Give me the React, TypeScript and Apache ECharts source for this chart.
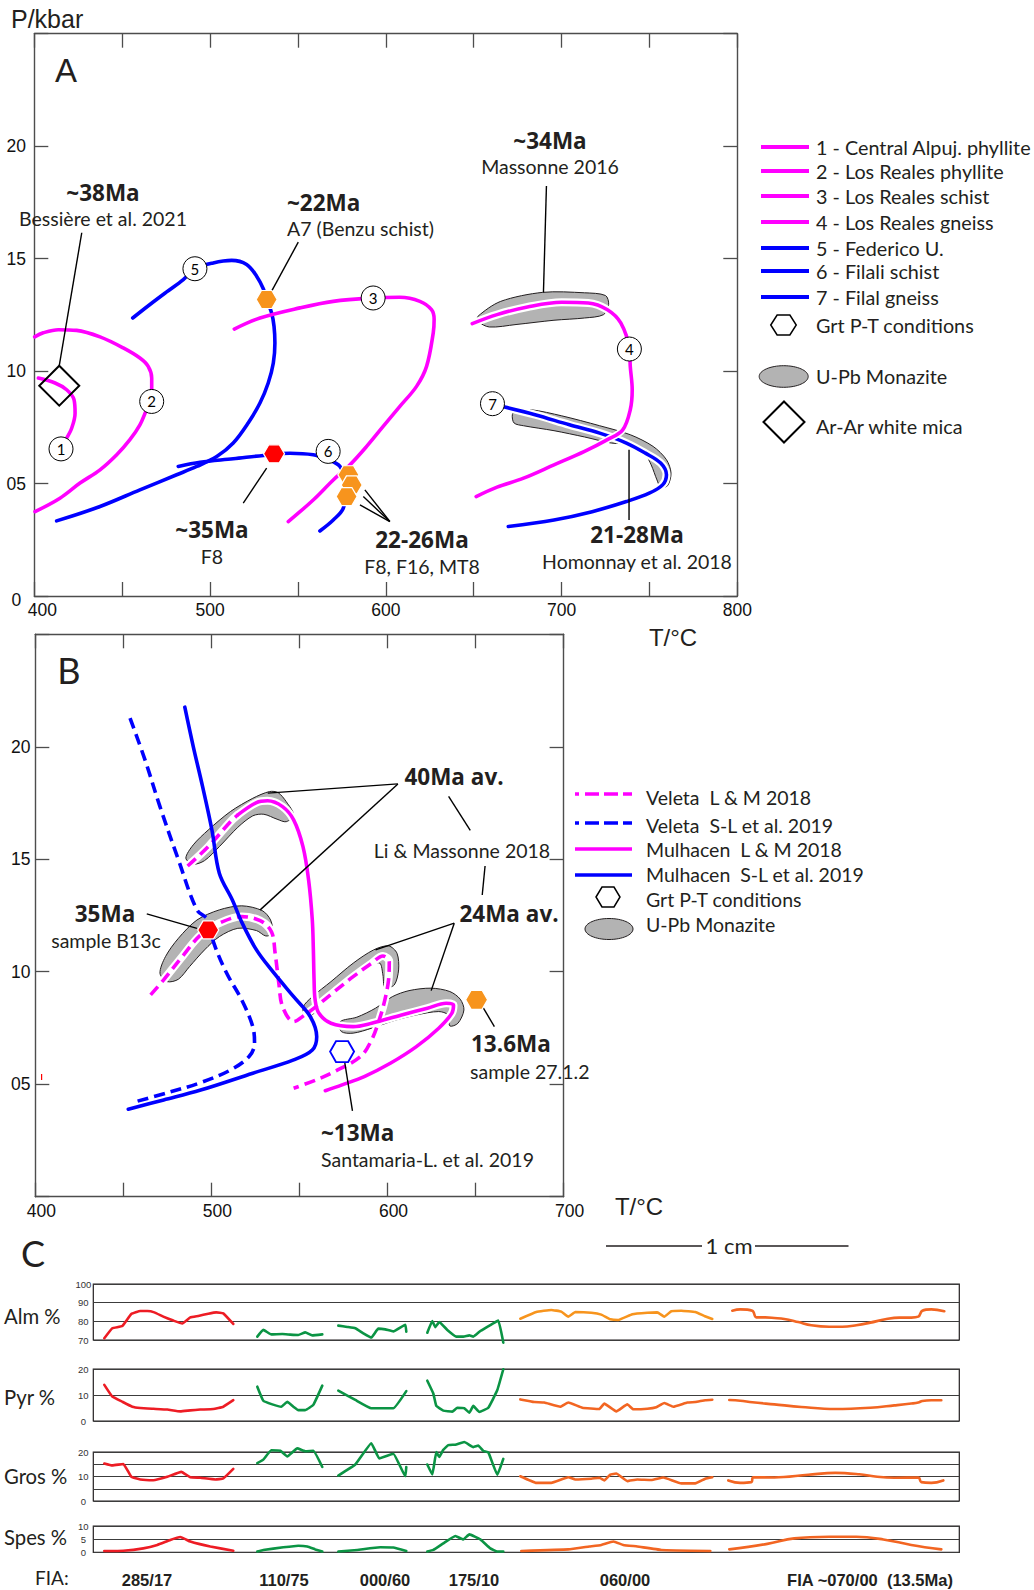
import React, { useEffect, useRef } from 'react';
import * as echarts from 'echarts';

type Pt = [number, number];

// ================= Panel A : P–T paths (T °C, P kbar) =================
const a1: Pt[] = [[402.3, 9.69], [411.8, 9.47], [418.4, 9.17], [422.6, 8.73], [423.2, 8.13], [421.3, 7.47], [418.4, 7.02]];
const a2: Pt[] = [[400.2, 11.52], [405.1, 11.7], [413.7, 11.84], [424.1, 11.81], [437.4, 11.52], [450.6, 11.03], [460.1, 10.58], [464.8, 10.21], [466.8, 9.69], [466.8, 9.17], [466.6, 8.65], [463.9, 8.28], [460.1, 7.61], [454.4, 6.95], [446.9, 6.28], [437.4, 5.61], [426, 5.02], [414.6, 4.35], [400.4, 3.75]];
const a3: Pt[] = [[513.8, 11.87], [528.4, 12.36], [551.1, 12.81], [570.1, 13.1], [592.8, 13.25], [608, 13.28], [619.4, 13.1], [626, 12.73], [627.5, 12.3], [627, 11.7], [623.2, 10.21], [617.5, 9.32], [608, 8.43], [598.5, 7.54], [589.1, 6.65], [579.6, 5.83], [570.1, 5.16], [558.7, 4.27], [544.5, 3.31]];
const a4: Pt[] = [[649.2, 12.11], [663.3, 12.51], [680.6, 12.85], [700.1, 13.06], [715.2, 13.03], [726.1, 12.73], [733.7, 12.14], [738.6, 10.98], [739.1, 10.21], [740.2, 9.17], [739.1, 8.28], [734.8, 7.39], [726.1, 6.95], [713.1, 6.43], [695.7, 5.83], [678.4, 5.24], [663.3, 4.84], [651.4, 4.42]];
const a5: Pt[] = [[456, 12.36], [465.8, 12.96], [475.3, 13.52], [484.8, 14.07], [491.4, 14.55], [501.8, 14.81], [512.3, 14.92], [520.8, 14.74], [526.5, 14.22], [530.3, 13.66], [532.2, 13.18], [535, 12.59], [536.4, 11.99], [536.9, 11.25], [536, 10.36], [533.1, 9.47], [528.4, 8.58], [521.7, 7.69], [513.2, 6.8], [503.8, 6.2], [492.4, 5.76], [481, 5.39], [460.1, 4.72], [437.4, 3.98], [412.7, 3.34]];
const a6: Pt[] = [[481.9, 5.76], [494.3, 5.95], [513.2, 6.1], [530.3, 6.25], [545.5, 6.35], [558.7, 6.28], [566, 6.09], [573.9, 5.76], [577.7, 4.87], [575.8, 3.9], [570.1, 3.38], [562.5, 2.89]];
const a7: Pt[] = [[667.6, 8.4], [684.9, 8.06], [704.5, 7.61], [721.7, 7.24], [736.9, 6.8], [747.7, 6.35], [756.4, 5.91], [759.7, 5.39], [757.5, 4.94], [749.9, 4.57], [736.9, 4.2], [717.4, 3.75], [695.7, 3.38], [669.7, 3.09]];
// U-Pb monazite fields (outline points)
const blobA34: Pt[] = [[652.5, 12.44], [665.4, 13.1], [689.3, 13.5], [713.1, 13.48], [725, 13.36], [726.8, 12.96], [723.9, 12.51], [713.1, 12.36], [695.7, 12.26], [674.1, 12.07], [658.9, 11.96], [652.5, 12.21]];
const blobA21: Pt[] = [[672, 8.06], [674.1, 8.24], [682.8, 8.28], [700.1, 8.01], [721.7, 7.57], [739.1, 7.17], [752.1, 6.65], [759.7, 6.06], [762.3, 5.46], [760.3, 4.9], [756.4, 4.84], [754.3, 5.16], [751, 5.83], [747.7, 6.28], [740.2, 6.72], [728.3, 6.8], [713.1, 7.07], [695.7, 7.35], [678.4, 7.57], [673, 7.69]];
const hexRedA: Pt[] = [[536.4, 6.32]];
const hexOrangeA: Pt[] = [[532.2, 13.18], [578.7, 5.39], [580.6, 4.94], [577.7, 4.42]];
const diamondA: Pt[] = [[414.2, 9.35]];
const circleA: [number, number, string][] = [[415.2, 6.54, '1'], [466.8, 8.65, '2'], [592.8, 13.25, '3'], [738.6, 10.98, '4'], [491.4, 14.55, '5'], [567.2, 6.43, '6'], [660.7, 8.55, '7']];
const leadersA: Pt[][] = [
  [[427, 16.15], [414.2, 10.24]],
  [[550.2, 15.73], [534.5, 13.48]],
  [[532.2, 5.69], [518.9, 4.13]],
  [[602.3, 3.31], [588.1, 4.72]],
  [[602.3, 3.31], [587.2, 4.42]],
  [[602.3, 3.31], [585.3, 4.05]],
  [[691.4, 18.23], [689.7, 13.5]],
  [[738.4, 6.5], [738.4, 3.38]],
];
const legendA = ['1 - Central Alpuj. phyllite', '2 - Los Reales phyllite', '3 - Los Reales schist', '4 - Los Reales gneiss', '5 - Federico U.', '6 - Filali schist', '7 - Filal gneiss'];

// ================= Panel B =================
const velSL: Pt[] = [[453.8, 21.27], [462.3, 19.42], [470.8, 17.34], [481.3, 14.97], [491.8, 12.75], [498.2, 12.3], [501.4, 11.27], [508.7, 9.93], [517.2, 8.75], [523.5, 7.56], [524.5, 6.82], [521.4, 6.23], [510.8, 5.63], [493.9, 5.07], [474.9, 4.62], [454.9, 4.18]];
const mulSL: Pt[] = [[484.9, 21.76], [489.7, 20.01], [495, 18.23], [500.3, 16.3], [504.5, 14.38], [511.9, 13.19], [517.5, 12.16], [525.6, 10.97], [534.1, 10.08], [546.7, 8.89], [556.2, 8.0], [559.8, 7.11], [557.3, 6.52], [546.7, 6.08], [523.5, 5.49], [493.9, 4.74], [472.9, 4.3], [452.8, 3.89]];
const velLM: Pt[] = [[465.5, 8.97], [472.9, 9.64], [483.4, 10.67], [493.9, 11.64], [504.5, 12.16], [517.2, 12.45], [527.7, 12.27], [534.1, 11.78], [536.2, 10.82], [538.3, 9.49], [540.4, 8.45], [546.7, 7.78], [553, 8.08], [559.4, 8.45], [569.9, 9.12], [580.5, 9.78], [591, 10.38], [597.4, 10.7], [601, 10.45], [600.6, 9.64], [598.5, 8.75], [595.3, 7.86], [591, 6.97], [584.7, 6.23], [569.9, 5.56], [559.4, 5.19], [546.7, 4.82]];
const mulLMpro: Pt[] = [[486.5, 14.7], [498.2, 15.56], [510.8, 16.67], [515, 16.97]];
const mulLM: Pt[] = [[515, 16.97], [525.6, 17.52], [531.9, 17.6], [540.4, 17.34], [546.7, 16.75], [552, 15.56], [555.2, 14.08], [557.3, 12.3], [557.9, 10.97], [558.3, 9.64], [558.9, 8.75], [561.1, 8.15], [567.9, 7.71], [580.5, 7.56], [591, 7.71], [608, 8.08], [622.7, 8.38], [633.3, 8.6], [637.5, 8.52], [636.5, 8.15], [629.1, 7.49], [616.4, 6.67], [601.6, 5.93], [586.8, 5.34], [574.2, 4.97], [564.7, 4.71]];
const blobB40: Pt[] = [[485.5, 15.05], [489.7, 15.64], [498.2, 16.3], [510.8, 17.12], [523.5, 17.71], [533, 18.01], [537.9, 17.96], [542.5, 17.56], [546.7, 16.97], [542.5, 16.67], [537.3, 16.78], [529.8, 17.0], [523.5, 16.93], [515, 16.42], [504.5, 15.56], [496.1, 14.94], [489.7, 14.78]];
const blobB35: Pt[] = [[470.8, 9.93], [473.9, 10.67], [481.3, 11.49], [491.8, 12.3], [504.5, 12.75], [517.2, 12.93], [528.8, 12.72], [533.6, 12.3], [534.7, 11.71], [530.9, 11.59], [525.6, 11.83], [515, 11.93], [504.5, 11.56], [496.1, 10.97], [487.6, 10.23], [481.3, 9.67], [474.9, 9.56]];
const blobB24a: Pt[] = [[552, 8.42], [557.3, 8.89], [567.9, 9.56], [580.5, 10.38], [592.1, 10.97], [600.6, 11.15], [605.4, 10.82], [606.3, 10.08], [603.8, 9.41], [598.5, 9.31], [597.4, 9.86], [595.7, 10.38], [591, 10.3], [582.6, 9.86], [572.1, 9.27], [563.6, 8.67], [558.3, 8.15], [553.5, 8.03]];
const blobB24b: Pt[] = [[573.1, 7.78], [582.6, 7.98], [593.2, 8.38], [602.7, 8.89], [612.2, 9.16], [624.8, 9.27], [635.4, 9.12], [641.3, 8.78], [643.4, 8.3], [640, 7.71], [635.4, 7.59], [634.4, 8.08], [629.1, 8.23], [616.4, 8.08], [603.7, 7.83], [591, 7.49], [580.5, 7.27], [573.8, 7.34]];
const hexRedB: Pt[] = [[498.2, 11.86]];
const hexOrangeB: Pt[] = [[650.6, 8.75]];
const hexBlueB: Pt[] = [[574.2, 6.45]];
const leadersB: Pt[][] = [
  [[605.9, 18.35], [532, 17.94]],
  [[605.9, 18.35], [527.7, 12.75]],
  [[634.7, 17.79], [647, 16.28]],
  [[655.4, 14.7], [653.8, 13.41]],
  [[637.9, 12.16], [593.2, 10.97]],
  [[637.9, 12.16], [624.8, 9.16]],
  [[463.3, 12.57], [491.8, 11.93]],
  [[652.3, 8.67], [660.7, 7.56]],
  [[575.2, 6.23], [580.1, 3.82]],
];
const legendB = ['Veleta  L & M 2018', 'Veleta  S-L et al. 2019', 'Mulhacen  L & M 2018', 'Mulhacen  S-L et al. 2019'];

// ================= Panel C : garnet profiles (distance, mol %) =================
const almRed: Pt[] = [[11, 70.9], [19, 76.3], [29, 77.5], [38, 83.9], [47, 85.5], [54, 85.5], [61, 84.8], [70, 82.5], [80, 80.4], [89, 78.8], [97, 82.1], [105, 82.9], [115, 84.1], [123, 84.8], [130, 84.3], [140, 78.6]];
const almG1: Pt[] = [[164, 71.8], [170, 75.4], [178, 73.0], [189, 73.2], [197, 72.9], [205, 72.7], [212, 74.1], [219, 72.5], [229, 73.0]];
const almG2: Pt[] = [[245, 77.7], [254, 77.0], [262, 76.3], [270, 73.6], [278, 71.3], [285, 76.1], [292, 75.7], [300, 74.6], [312, 78.2], [313, 74.5]];
const almG3: Pt[] = [[334, 73.9], [339, 80.2], [342, 76.9], [346, 79.6], [354, 75.4], [363, 71.8], [370, 71.8], [376, 72.5], [380, 71.8], [387, 74.8], [397, 78.0], [405, 80.4], [410, 68.6]];
const almO1: Pt[] = [[427, 81.4], [443, 85.0], [458, 86.1], [468, 85.2], [475, 82.5], [482, 85.0], [498, 84.6], [508, 83.6], [517, 81.1], [525, 80.7], [539, 83.8], [554, 84.6], [564, 84.8], [571, 82.5], [578, 85.4], [588, 85.7], [602, 85.0], [611, 82.9], [619, 81.3]];
const almO2: Pt[] = [[639, 85.7], [647, 86.4], [659, 85.7], [663, 82.1], [672, 82.1], [681, 81.8], [691, 81.3], [705, 79.6], [718, 77.9], [736, 77.1], [749, 77.1], [763, 77.9], [777, 79.3], [792, 81.1], [806, 82.0], [818, 82.0], [825, 82.5], [829, 85.7], [838, 86.4], [851, 85.4]];
const pyrRed: Pt[] = [[11, 13.9], [19, 9.4], [29, 7.4], [39, 5.5], [47, 5.0], [60, 4.7], [74, 4.4], [87, 3.7], [97, 4.1], [107, 4.4], [120, 4.6], [130, 5.5], [140, 8.0]];
const pyrG1: Pt[] = [[164, 13.2], [170, 7.8], [179, 6.4], [188, 5.5], [194, 7.4], [200, 5.5], [205, 4.2], [212, 4.2], [220, 6.2], [229, 13.6]];
const pyrG2: Pt[] = [[245, 11.7], [262, 8.1], [278, 4.9], [300, 4.9], [313, 11.5]];
const pyrG3: Pt[] = [[334, 15.5], [340, 10.6], [343, 5.8], [350, 4.0], [359, 3.6], [364, 5.1], [371, 4.9], [376, 3.2], [380, 5.8], [386, 3.5], [395, 5.1], [404, 11.9], [410, 19.9]];
const pyrO1: Pt[] = [[427, 8.3], [441, 7.3], [451, 7.1], [467, 5.5], [475, 7.1], [489, 5.1], [506, 4.6], [511, 6.7], [523, 3.7], [534, 6.4], [540, 4.5], [554, 4.7], [563, 5.3], [571, 6.9], [580, 5.5], [594, 7.1], [602, 7.3], [612, 8.0], [619, 8.2]];
const pyrO2: Pt[] = [[636, 8.1], [647, 7.8], [659, 7.2], [681, 6.4], [708, 5.4], [742, 4.6], [777, 5.1], [801, 6.0], [818, 6.7], [825, 7.1], [829, 7.7], [838, 8.0], [848, 8.0]];
const grosRed: Pt[] = [[11, 15.3], [19, 14.5], [30, 15.1], [38, 9.9], [47, 8.8], [60, 8.5], [74, 9.9], [88, 11.9], [97, 9.7], [107, 9.5], [122, 8.8], [130, 9.2], [140, 13.1]];
const grosG1: Pt[] = [[164, 15.5], [170, 16.9], [178, 20.7], [187, 20.5], [194, 18.2], [204, 21.5], [212, 20.3], [220, 20.5], [229, 13.9]];
const grosG2: Pt[] = [[245, 10.4], [262, 14.9], [278, 23.6], [286, 17.4], [300, 19.3], [312, 10.1], [313, 13.9]];
const grosG3: Pt[] = [[334, 14.9], [339, 10.8], [343, 20.0], [346, 18.0], [350, 20.9], [355, 22.8], [362, 23.0], [371, 24.1], [380, 22.0], [385, 22.6], [390, 20.4], [395, 19.9], [404, 10.7], [410, 17.2]];
const grosO1: Pt[] = [[427, 10.1], [443, 7.4], [458, 7.4], [475, 9.7], [482, 8.8], [498, 9.1], [506, 9.5], [511, 8.4], [517, 10.8], [523, 11.2], [534, 8.1], [544, 8.8], [558, 8.6], [570, 9.6], [588, 7.2], [602, 7.2], [612, 9.1], [619, 9.7]];
const grosO2: Pt[] = [[635, 8.4], [647, 7.4], [658, 7.7], [660, 9.7], [681, 9.6], [715, 10.7], [742, 11.5], [766, 10.9], [784, 9.9], [801, 9.5], [825, 9.6], [828, 7.7], [838, 7.4], [850, 8.4]];
const spesRed: Pt[] = [[11, 0.5], [30, 0.6], [50, 1.5], [64, 2.8], [77, 4.7], [87, 5.8], [97, 4.1], [117, 2.2], [140, 0.6]];
const spesG1: Pt[] = [[164, 0.3], [170, 0.9], [190, 1.9], [205, 2.5], [214, 2.2], [222, 1.1], [229, 0.3]];
const spesG2: Pt[] = [[245, 0.3], [264, 0.9], [287, 1.9], [300, 1.8], [313, 0.5]];
const spesG3: Pt[] = [[334, 0.3], [340, 0.9], [350, 3.4], [362, 6.2], [370, 4.9], [376, 6.8], [387, 4.9], [397, 1.5], [404, 0.3], [410, 0.3]];
const spesO1: Pt[] = [[428, 0.5], [475, 1.1], [496, 2.2], [508, 2.8], [520, 4.1], [530, 2.8], [544, 2.2], [568, 0.9], [617, 0.5]];
const spesO2: Pt[] = [[636, 1.1], [674, 3.2], [701, 5.3], [736, 5.9], [763, 5.9], [790, 4.9], [818, 2.8], [848, 1.1]];
const rowNames = ['Alm %', 'Pyr %', 'Gros %', 'Spes %'];
const fiaLabels = ['285/17', '110/75', '000/60', '175/10', '060/00', 'FIA ~070/00  (13.5Ma)'];

// ================= styles =================
const FRAME = '#4d4d4d';
const MAG = '#ff00ff';
const BLUE = '#0000ff';
const RED = '#ff0000';
const ORANGE = '#f7941d';
const ORANGE2 = '#f26522';
const GREEN = '#0b9444';
const CRED = '#ed1c24';
const GREY = '#b3b3b3';
const INK = '#231f20';
const LATO = "Lato, 'Noto Sans', sans-serif";
const OPENB = "'Open Sans', Lato, sans-serif";
const ARIAL = "'Liberation Sans', Arial, sans-serif";
const HEX = 'path://M0,50 L25,6.7 L75,6.7 L100,50 L75,93.3 L25,93.3 Z';
const REG = 19.5; // regular annotation size
const BLD = 22.5; // bold annotation size

function hexPts(cx: number, cy: number, w: number, h: number) {
  return [[cx - w / 2, cy], [cx - w / 4, cy - h / 2], [cx + w / 4, cy - h / 2], [cx + w / 2, cy], [cx + w / 4, cy + h / 2], [cx - w / 4, cy + h / 2]];
}

function txt(text: string, x: number, y: number, size: number, o: any = {}) {
  const align = o.align || 'center';
  return {
    type: 'text', x, y, silent: true, z: 100,
    style: {
      text, fill: o.color || INK, fontSize: size, fontFamily: o.font || (o.bold ? OPENB : LATO),
      fontWeight: o.bold ? 'bold' : 'normal',
      align, textAlign: align, verticalAlign: 'middle', textVerticalAlign: 'middle',
    },
  };
}

function line(data: Pt[], color: string, ai: number, o: any = {}) {
  return {
    type: 'line', xAxisIndex: ai, yAxisIndex: ai, data, symbol: 'none', silent: true, clip: false,
    smooth: o.smooth ?? 0.35, z: o.z ?? 3, animation: false,
    lineStyle: { color, width: o.width ?? 3.6, type: o.dash ?? 'solid', cap: o.cap ?? 'round', join: 'round' },
    emphasis: { disabled: true },
  };
}

function blobs(list: Pt[][], ai: number) {
  return {
    type: 'custom', xAxisIndex: ai, yAxisIndex: ai, silent: true, clip: false, z: 2,
    data: list.map((b, i) => [b[0][0], b[0][1], i]),
    renderItem: (params: any, api: any) => ({
      type: 'polygon',
      shape: { points: list[params.dataIndex].map((p) => api.coord(p)), smooth: 0.3 },
      style: { fill: GREY, stroke: INK, lineWidth: 1 },
    }),
  };
}

function hexes(data: Pt[], ai: number, fill: string, stroke: string, size: number[], bw = 1.2) {
  return {
    type: 'scatter', xAxisIndex: ai, yAxisIndex: ai, data, symbol: HEX, symbolSize: size, silent: true, z: 6,
    itemStyle: { color: fill, borderColor: stroke, borderWidth: bw, opacity: 1 },
    emphasis: { disabled: true },
  };
}

function ptXAxis(gridIndex: number, position: string, min: number, max: number, labels: boolean, shiftAll: boolean) {
  return {
    type: 'value', gridIndex, position, min, max, interval: 50,
    axisLine: { show: true, onZero: false, lineStyle: { color: FRAME, width: 1.4 } },
    axisTick: { show: true, inside: true, length: 14, lineStyle: { color: FRAME, width: 1.3 } },
    splitLine: { show: false },
    axisLabel: labels ? {
      show: true, margin: 5, color: '#111', fontSize: 17.5, fontFamily: ARIAL, showMinLabel: true, showMaxLabel: true,
      formatter: (v: number) => (v % 100 !== 0 ? '' : (shiftAll || v === 400) ? '{s|' + v + '}' : String(v)),
      rich: { s: { padding: [0, 0, 0, shiftAll ? 12 : 16], fontSize: 17.5, fontFamily: ARIAL, color: '#111' } },
    } : { show: false },
  };
}

function ptYAxis(gridIndex: number, position: string, labels: boolean, margin: number, zeroLabel: boolean) {
  return {
    type: 'value', gridIndex, position, min: 0, max: 25, interval: 5,
    axisLine: { show: true, onZero: false, lineStyle: { color: FRAME, width: 1.4 } },
    axisTick: { show: true, inside: true, length: 14, lineStyle: { color: FRAME, width: 1.3 } },
    splitLine: { show: false },
    axisLabel: labels ? {
      show: true, margin, align: 'center', color: '#111', fontSize: 17.5, fontFamily: ARIAL, showMinLabel: true,
      formatter: (v: number) => (v === 25 ? '' : v === 0 ? (zeroLabel ? '{z|0}' : '') : v === 5 ? '05' : String(v)),
      rich: { z: { padding: [8, 0, 0, 0], fontSize: 17.5, fontFamily: ARIAL, color: '#111' } },
    } : { show: false },
  };
}

function cYAxis(gridIndex: number, min: number, max: number, interval: number, shown: number[]) {
  return {
    type: 'value', gridIndex, min, max, interval,
    axisLine: { show: false }, axisTick: { show: false },
    splitLine: { show: true, lineStyle: { color: '#3c3c3c', width: 1.1 } },
    axisLabel: {
      show: true, margin: 10, align: 'center', fontSize: 9.5, fontFamily: ARIAL, color: '#333',
      showMinLabel: true, showMaxLabel: true,
      formatter: (v: number) => (shown.indexOf(v) >= 0 ? String(v) : ''),
    },
  };
}

function buildOption() {
  const grids = [
    { left: 34.3, top: 33.7, width: 703, height: 562.3 },
    { left: 35.3, top: 634.3, width: 528.3, height: 562.4 },
    { left: 93.3, top: 1284, width: 866, height: 56 },
    { left: 93.3, top: 1369, width: 866, height: 52 },
    { left: 93.3, top: 1452, width: 866, height: 49 },
    { left: 93.3, top: 1526, width: 866, height: 26.3 },
  ].map((g, i) => ({ ...g, containLabel: false, outerBoundsMode: 'none', show: i >= 2, borderColor: INK, borderWidth: 1.2, backgroundColor: 'transparent' }));

  const xAxis: any[] = [
    ptXAxis(0, 'bottom', 400, 800, true, false),
    ptXAxis(0, 'top', 400, 800, false, false),
    ptXAxis(1, 'bottom', 400, 700, true, true),
    ptXAxis(1, 'top', 400, 700, false, true),
    ...[2, 3, 4, 5].map((g) => ({ type: 'value', gridIndex: g, min: 0, max: 866, show: false })),
  ];
  const yAxis: any[] = [
    ptYAxis(0, 'left', true, 18, true),
    ptYAxis(0, 'right', false, 0, false),
    ptYAxis(1, 'left', true, 14.5, false),
    ptYAxis(1, 'right', false, 0, false),
    cYAxis(2, 70, 100, 10, [70, 80, 90, 100]),
    cYAxis(3, 0, 20, 10, [0, 10, 20]),
    cYAxis(4, 0, 20, 5, [0, 10, 20]),
    cYAxis(5, 0, 10, 5, [0, 5, 10]),
  ];

  const dash = [11, 6];
  const series: any[] = [];
  // ---- Panel A ----
  series.push(blobs([blobA34, blobA21], 0));
  series.push(line(a7, '#fff', 0, { width: 8, z: 3 }));
  [a5, a6, a7].forEach((d) => series.push(line(d, BLUE, 0, { z: 3 })));
  series.push(line(a4.slice(0, 8), '#fff', 0, { width: 8, z: 3 }));
  series.push(line(a4.slice(10, 15), '#fff', 0, { width: 7, z: 3 }));
  [a1, a2, a3, a4].forEach((d) => series.push(line(d, MAG, 0, { z: 3 })));
  leadersA.forEach((d) => series.push(line(d, '#000', 0, { width: 1.4, smooth: false, cap: 'butt', z: 4 })));
  series.push(hexes(hexRedA, 0, RED, '#fff', [21, 18]));
  series.push(hexes(hexOrangeA, 0, ORANGE, '#fff', [21, 18]));
  series.push({
    type: 'scatter', xAxisIndex: 0, yAxisIndex: 0, data: diamondA, symbol: 'diamond', symbolSize: 40, silent: true, z: 6,
    itemStyle: { color: 'rgba(0,0,0,0)', borderColor: '#000', borderWidth: 2, opacity: 1 },
  });
  series.push({
    type: 'scatter', xAxisIndex: 0, yAxisIndex: 0, symbol: 'circle', symbolSize: 24, silent: true, z: 7,
    data: circleA.map(([t, p, n]) => ({ value: [t, p], name: n })),
    itemStyle: { color: '#fff', borderColor: '#000', borderWidth: 1, opacity: 1 },
    label: { show: true, position: 'inside', formatter: '{b}', color: '#000', fontSize: 15, fontFamily: LATO },
  });
  // ---- Panel B ----
  series.push(blobs([blobB40, blobB35, blobB24a, blobB24b], 2));
  [velLM, mulLMpro, mulLM].forEach((d) => series.push(line(d, '#fff', 2, { width: 8, z: 3 })));
  series.push(line(velLM, MAG, 2, { dash, cap: 'butt', z: 3 }));
  series.push(line(mulLMpro, MAG, 2, { dash, cap: 'butt', z: 3 }));
  series.push(line(mulLM, MAG, 2, { z: 3 }));
  series.push(line(velSL, BLUE, 2, { dash, cap: 'butt', z: 4 }));
  series.push(line(mulSL, BLUE, 2, { z: 4 }));
  leadersB.forEach((d) => series.push(line(d, '#000', 2, { width: 1.4, smooth: false, cap: 'butt', z: 4 })));
  series.push(hexes(hexRedB, 2, RED, '#fff', [21, 18]));
  series.push(hexes(hexOrangeB, 2, ORANGE, '#fff', [22, 19]));
  series.push(hexes(hexBlueB, 2, '#fff', BLUE, [24, 21], 1.8));
  // ---- Panel C ----
  const rows: [Pt[], string][][] = [
    [[almRed, CRED], [almG1, GREEN], [almG2, GREEN], [almG3, GREEN], [almO1, ORANGE], [almO2, ORANGE2]],
    [[pyrRed, CRED], [pyrG1, GREEN], [pyrG2, GREEN], [pyrG3, GREEN], [pyrO1, ORANGE2], [pyrO2, ORANGE2]],
    [[grosRed, CRED], [grosG1, GREEN], [grosG2, GREEN], [grosG3, GREEN], [grosO1, ORANGE2], [grosO2, ORANGE2]],
    [[spesRed, CRED], [spesG1, GREEN], [spesG2, GREEN], [spesG3, GREEN], [spesO1, ORANGE2], [spesO2, ORANGE2]],
  ];
  rows.forEach((row, r) => row.forEach(([d, c], k) =>
    series.push(line(d, c, 4 + r, { width: 2.6, smooth: k === 5 ? 0.4 : 0.1, z: 5 }))));

  // ---- graphics: texts & legends ----
  const g: any[] = [];
  g.push(txt('P/kbar', 11, 19, 25, { font: ARIAL, align: 'left' }));
  g.push(txt('A', 66, 70, 33, { font: ARIAL }));
  g.push(txt('~38Ma', 103, 192, BLD, { bold: true }));
  g.push(txt('Bessière et al. 2021', 103, 218, REG));
  g.push(txt('~22Ma', 287, 202, BLD, { bold: true, align: 'left' }));
  g.push(txt('A7 (Benzu schist)', 287, 228, REG, { align: 'left' }));
  g.push(txt('~34Ma', 550, 140, BLD, { bold: true }));
  g.push(txt('Massonne 2016', 550, 166, REG));
  g.push(txt('~35Ma', 212, 529, BLD, { bold: true }));
  g.push(txt('F8', 212, 556, REG));
  g.push(txt('22-26Ma', 422, 539, BLD, { bold: true }));
  g.push(txt('F8, F16, MT8', 422, 566, REG));
  g.push(txt('21-28Ma', 637, 534, BLD, { bold: true }));
  g.push(txt('Homonnay et al. 2018', 637, 561, REG));
  g.push(txt('T/°C', 673, 637, 24, { font: ARIAL }));
  const lyA = [147, 171, 196, 222, 248, 271, 297];
  legendA.forEach((s, i) => {
    g.push({ type: 'line', silent: true, z: 100, shape: { x1: 761, y1: lyA[i], x2: 809, y2: lyA[i] }, style: { stroke: i < 4 ? MAG : BLUE, lineWidth: 4 } });
    g.push(txt(s, 816, lyA[i], 19.8, { align: 'left' }));
  });
  g.push({ type: 'polygon', silent: true, z: 100, shape: { points: hexPts(783.5, 325, 25.5, 20) }, style: { fill: '#fff', stroke: '#000', lineWidth: 1.5 } });
  g.push(txt('Grt P-T conditions', 816, 325, 19.8, { align: 'left' }));
  g.push({ type: 'ellipse', silent: true, z: 100, shape: { cx: 783.7, cy: 376.5, rx: 24.5, ry: 10.8 }, style: { fill: GREY, stroke: INK, lineWidth: 1 } });
  g.push(txt('U-Pb Monazite', 816, 376, 19.8, { align: 'left' }));
  g.push({ type: 'polygon', silent: true, z: 100, shape: { points: [[784, 401.5], [804.5, 422], [784, 442.5], [763.5, 422]] }, style: { fill: 'none', stroke: '#000', lineWidth: 2 } });
  g.push(txt('Ar-Ar white mica', 816, 426, 19.8, { align: 'left' }));

  g.push(txt('B', 69, 670, 36));
  g.push(txt('40Ma av.', 454, 776, BLD, { bold: true }));
  g.push(txt('Li & Massonne 2018', 462, 850, REG));
  g.push(txt('24Ma av.', 509, 913, BLD, { bold: true }));
  g.push(txt('35Ma', 105, 913, BLD, { bold: true }));
  g.push(txt('sample B13c', 106, 940, REG));
  g.push(txt('13.6Ma', 471, 1043, BLD, { bold: true, align: 'left' }));
  g.push(txt('sample 27.1.2', 470, 1071, REG, { align: 'left' }));
  g.push(txt('~13Ma', 321, 1132, BLD, { bold: true, align: 'left' }));
  g.push(txt('Santamaria-L. et al. 2019', 321, 1159, REG, { align: 'left' }));
  g.push(txt('T/°C', 639, 1206, 24, { font: ARIAL }));
  g.push({ type: 'line', silent: true, z: 100, shape: { x1: 41.6, y1: 1074, x2: 41.6, y2: 1080 }, style: { stroke: RED, lineWidth: 1.2 } });
  const lyB = [794, 823, 849, 875];
  const tyB = [797, 825, 849, 874];
  legendB.forEach((s, i) => {
    g.push({ type: 'line', silent: true, z: 100, shape: { x1: 575, y1: lyB[i], x2: 632, y2: lyB[i] }, style: { stroke: i % 2 === 0 ? MAG : BLUE, lineWidth: 3.6, lineDash: i < 2 ? [4, 6, 14, 5, 14, 5, 14] : null } });
    g.push(txt(s, 646, tyB[i], 19.5, { align: 'left' }));
  });
  g.push({ type: 'polygon', silent: true, z: 100, shape: { points: hexPts(608, 897, 24, 20) }, style: { fill: '#fff', stroke: '#000', lineWidth: 1.5 } });
  g.push(txt('Grt P-T conditions', 646, 899, 19.5, { align: 'left' }));
  g.push({ type: 'ellipse', silent: true, z: 100, shape: { cx: 609, cy: 929, rx: 24, ry: 10.5 }, style: { fill: GREY, stroke: INK, lineWidth: 1 } });
  g.push(txt('U-Pb Monazite', 646, 924, 19.5, { align: 'left' }));

  g.push(txt('C', 33, 1253, 36));
  const rowY = [1316, 1397, 1476, 1537];
  rowNames.forEach((s, i) => g.push(txt(s, 4, rowY[i], 20.3, { align: 'left' })));
  g.push(txt('FIA:', 35, 1577, 19, { align: 'left' }));
  const fiaX = [147, 284, 385, 474, 625, 870];
  fiaLabels.forEach((s, i) => g.push(txt(s, fiaX[i], 1580, 16.5, { bold: true, font: ARIAL })));
  g.push({ type: 'line', silent: true, z: 100, shape: { x1: 606, y1: 1246, x2: 702, y2: 1246 }, style: { stroke: INK, lineWidth: 1.5 } });
  g.push({ type: 'line', silent: true, z: 100, shape: { x1: 755, y1: 1246, x2: 848.5, y2: 1246 }, style: { stroke: INK, lineWidth: 1.5 } });
  g.push(txt('1 cm', 729, 1245, 22));

  return {
    animation: false,
    backgroundColor: '#fff',
    textStyle: { fontFamily: LATO },
    grid: grids,
    xAxis,
    yAxis,
    series,
    graphic: { elements: g },
  };
}

export default function App() {
  const ref = useRef<HTMLDivElement>(null);
  useEffect(() => {
    document.body.style.margin = '0';
    const chart = echarts.init(ref.current as HTMLDivElement, null, { renderer: 'svg' });
    chart.setOption(buildOption() as any);
    return () => chart.dispose();
  }, []);
  return <div ref={ref} style={{ position: 'absolute', left: 0, top: 0, width: 1034, height: 1590, background: '#fff' }} />;
}
